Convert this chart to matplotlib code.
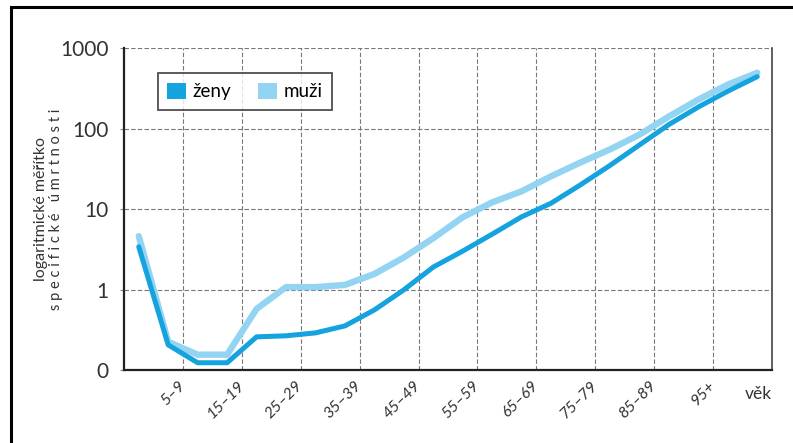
import matplotlib
matplotlib.use("Agg")
import matplotlib.pyplot as plt
from matplotlib.patches import Patch, Rectangle
from matplotlib.transforms import ScaledTranslation

plt.rcParams['font.family'] = ['Lato', 'DejaVu Sans']

# Values (specific mortality, log scale), one point per 5-year age group
zeny = [3.4, 0.205, 0.123, 0.123, 0.258, 0.266, 0.289, 0.353, 0.557, 0.99, 1.9, 3.0,
        4.87, 8.0, 11.8, 20.0, 34.8, 62.5, 112, 185, 291, 441]
muzi = [4.6, 0.224, 0.155, 0.155, 0.574, 1.07, 1.07, 1.14, 1.56, 2.5, 4.34, 7.9,
        12.1, 16.6, 25.5, 37.9, 55, 84, 141, 229, 351, 493]
tick_labels = ["5–9", "15–19", "25–29", "35–39", "45–49", "55–59", "65–69",
               "75–79", "85–89", "95+"]
y_ticks = [0.1, 1, 10, 100, 1000]
y_labels = ["0", "1", "10", "100", "1000"]

col_zeny = "#14a3df"
col_muzi = "#92d4f1"

# x = middle of each age group (the first one sits left of 5–9)
x = [i * 5 - 2.5 for i in range(len(zeny))]
x_ticks = [5 + 10 * i for i in range(len(tick_labels))]

fig = plt.figure(figsize=(7.93, 4.43), dpi=100)
ax = fig.add_axes([0.1564, 0.1648, 0.8171, 0.7268])

ax.plot(x, muzi, color=col_muzi, lw=4.6, solid_joinstyle="round", solid_capstyle="round", zorder=3)
ax.plot(x, zeny, color=col_zeny, lw=3.6, solid_joinstyle="round", solid_capstyle="round", zorder=4)

ax.set_yscale("log")
ax.set_ylim(0.1, 1000)
ax.set_xlim(-5, 105)
ax.set_yticks(y_ticks)
ax.set_yticklabels(y_labels, fontsize=15, color="#333333")
ax.yaxis.set_minor_locator(matplotlib.ticker.NullLocator())
ax.set_xticks(x_ticks)
ax.set_xticklabels(tick_labels, rotation=45, ha="right", va="top", rotation_mode="anchor",
                   fontsize=11.5, color="#333333", style="italic")
ax.tick_params(axis="x", length=0, pad=6)
ax.tick_params(axis="y", length=3, width=0.8, color="#888888", pad=8)
# shift the rotated labels a bit to the left, like in the original
for lab in ax.get_xticklabels():
    lab.set_transform(lab.get_transform() + ScaledTranslation(-5 / 100, 0, fig.dpi_scale_trans))

# dashed grid
ax.grid(True, which="major", color="#777777", lw=0.8, ls=(0, (4, 2)))
ax.set_axisbelow(True)

for s in ["left", "bottom"]:
    ax.spines[s].set_linewidth(1.6)
    ax.spines[s].set_color("#222222")
ax.spines["right"].set_linewidth(1.2)
ax.spines["right"].set_color("#444444")
ax.spines["top"].set_visible(False)

# axis labels
fig.text(0.052, 0.528, "logaritmické měřítko", rotation=90, ha="center", va="center",
         fontsize=11.5, color="#333333")
fig.text(0.071, 0.528, "s p e c i f i c k é   ú m r t n o s t i", rotation=90, ha="center",
         va="center", fontsize=10.5, color="#333333")
ax.text(1.0, -0.05, "věk", transform=ax.transAxes, ha="right", va="top", fontsize=12.5,
        color="#333333")

# legend with square patches
handles = [Patch(facecolor=col_zeny, edgecolor="none", label="ženy"),
           Patch(facecolor=col_muzi, edgecolor="none", label="muži")]
leg = ax.legend(handles=handles, ncol=2, loc="upper left", bbox_to_anchor=(0.052, 0.922),
                borderaxespad=0, handlelength=1.0, handleheight=1.0, handletextpad=0.35,
                columnspacing=1.45, fontsize=13.5, frameon=True, fancybox=False, borderpad=0.5)
leg.get_frame().set_edgecolor("#222222")
leg.get_frame().set_linewidth(1.3)

# outer frame of the figure (cut off on right and bottom)
fig.patches.append(Rectangle((11 / 793, -0.1), 1.2, 1 - 6.5 / 443 + 0.1, transform=fig.transFigure,
                             fill=False, edgecolor="black", lw=2.2))

fig.savefig("out.png", dpi=100)
